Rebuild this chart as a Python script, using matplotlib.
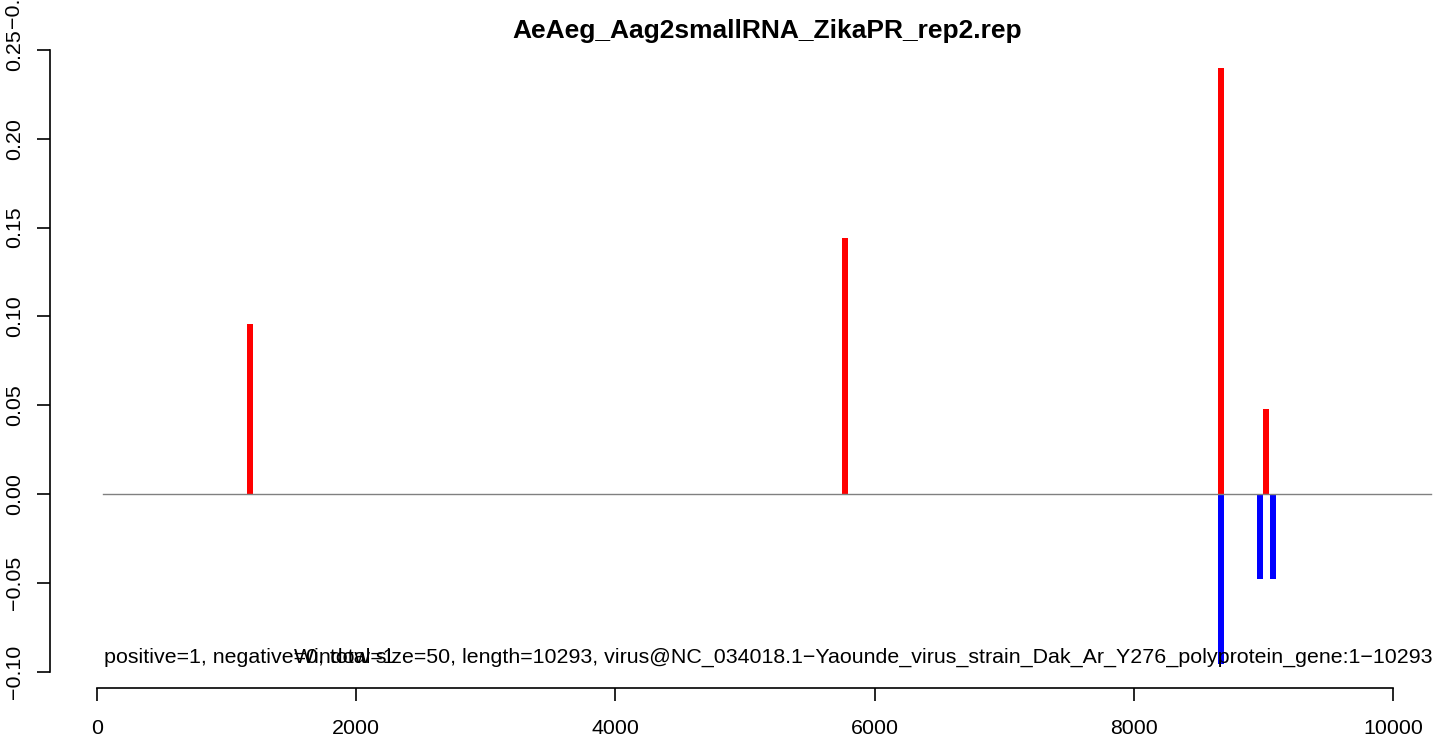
import numpy as np
import matplotlib.pyplot as plt

plt.rcParams['font.family'] = ['Liberation Sans', 'DejaVu Sans']

pos_x = [1180, 5772, 8673, 9020]
pos_y = [0.096, 0.144, 0.240, 0.048]
neg_x = [8673, 8974, 9074]
neg_y = [-0.096, -0.048, -0.048]
xticks = [0, 2000, 4000, 6000, 8000, 10000]
yticks = [-0.10, -0.05, 0.00, 0.05, 0.10, 0.15, 0.20, 0.25]
genome_len = 10293
title = "AeAeg_Aag2smallRNA_ZikaPR_rep2.rep"
left_note = "positive=1, negative=0, total=1"
right_note = ("Window size=50, length=10293, "
              "virus@NC_034018.1\u2212Yaounde_virus_strain_Dak_Ar_Y276_polyprotein_gene:1\u221210293")

W, H = 1439, 740
fs = 15.4
fig = plt.figure(figsize=(W / 100, H / 100), dpi=100)

# plot region in pixels: left=50, bottom=688, top=40, right=1439
ax = fig.add_axes([50 / W, (H - 688) / H, (W - 50) / W, (688 - 40) / H])
px_per_x = 0.1296
px_per_y = 1776
ax.set_xlim((50 - 97) / px_per_x, (W - 97) / px_per_x)
ax.set_ylim(-(688 - 494) / px_per_y, (494 - 40) / px_per_y)

ax.plot([50, genome_len], [0, 0], color='#808080', lw=1)
ax.bar(pos_x, pos_y, width=52, color='red', linewidth=0)
ax.bar(neg_x, neg_y, width=52, color='blue', linewidth=0)

for s in ['top', 'right']:
    ax.spines[s].set_visible(False)
ax.spines['bottom'].set_bounds(0, 10000)
ax.spines['left'].set_bounds(-0.10, 0.25)
ax.spines['bottom'].set_linewidth(1.2)
ax.spines['left'].set_linewidth(1.2)
ax.set_xticks(xticks)
ax.set_xticklabels([str(t) for t in xticks])
ax.set_yticks(yticks)
ax.set_yticklabels([f"{t:.2f}".replace('-', '\u2212') for t in yticks],
                   rotation=90, va='center')
ax.tick_params(axis='both', length=9.4, width=1.2, labelsize=fs)
ax.tick_params(axis='x', pad=13)
ax.tick_params(axis='y', pad=9)

ax.text(54, -0.092, left_note, fontsize=fs, ha='left', va='center')
ax.text(10301, -0.092, right_note, fontsize=fs, ha='right', va='center')

fig.text(767 / W, 1 - 31 / H, title, fontsize=19, fontweight='bold',
         ha='center', va='center')
# clipped label at the very top of the y axis
fig.text(13.5 / W, 1 - 28 / H, "\u22120.1", fontsize=fs, rotation=90,
         ha='center', va='bottom')

fig.savefig('out.png', dpi=100)
